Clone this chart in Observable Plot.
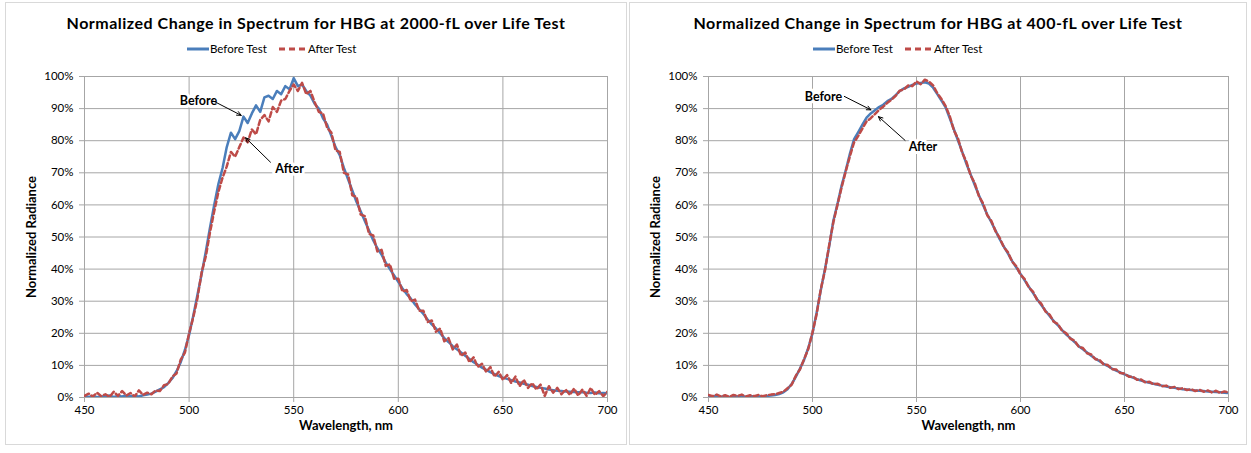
<!DOCTYPE html>
<html><head><meta charset="utf-8">
<script src="https://cdn.jsdelivr.net/npm/d3@7"></script>
<script src="https://cdn.jsdelivr.net/npm/@observablehq/plot@0.6"></script>
<style>
body{margin:0;background:#fff;font-family:Lato,sans-serif;width:1251px;height:453px;overflow:hidden;position:relative}
.panel{position:absolute;top:2px;height:443px;border:1px solid #d9d9d9;background:#fff;box-sizing:border-box}
.title{position:absolute;top:10px;left:0;right:0;text-align:center;font-weight:bold;font-size:16px;letter-spacing:0.5px;color:#000;white-space:nowrap}
.legend{position:absolute;top:39px;display:flex;align-items:center;font-size:11.5px;color:#000;white-space:nowrap}
.legend svg{display:block}
.plotwrap{position:absolute;left:0;top:0}
svg [aria-label="x-axis tick"], svg [aria-label="y-axis tick"]{stroke:#a6a6a6}
svg [aria-label="x-axis label"], svg [aria-label="y-axis label"]{font-weight:bold;font-size:13px}
</style>
</head><body>
<div id="p1" class="panel" style="left:5px;width:622px"></div>
<div id="p2" class="panel" style="left:629px;width:618px"></div>
<script>
const titles = ["Normalized Change in Spectrum for HBG at 2000-fL over Life Test", "Normalized Change in Spectrum for HBG at 400-fL over Life Test"];
const seriesNames = ["Before Test", "After Test"];
const xLabel = "Wavelength, nm";
const yLabel = "Normalized Radiance";
const xTicks = [450, 500, 550, 600, 650, 700];
const yTicks = [0, 10, 20, 30, 40, 50, 60, 70, 80, 90, 100];

const wl = [450,452,454,456,458,460,462,464,466,468,470,472,474,476,478,480,482,484,486,488,490,492,494,496,498,500,502,504,506,508,510,512,514,516,518,520,522,524,526,528,530,532,534,536,538,540,542,544,546,548,550,552,554,556,558,560,562,564,566,568,570,572,574,576,578,580,582,584,586,588,590,592,594,596,598,600,602,604,606,608,610,612,614,616,618,620,622,624,626,628,630,632,634,636,638,640,642,644,646,648,650,652,654,656,658,660,662,664,666,668,670,672,674,676,678,680,682,684,686,688,690,692,694,696,698,700];

// 2000-fL chart
const before2000 = [0.3,0.2,0.5,0.1,0.4,0.3,0.6,0.2,0.5,0.3,0.6,0.4,0.5,0.3,0.7,0.9,1.2,1.8,2.5,3.2,4.5,6.0,8.2,11.0,14.8,19.5,25.5,32.0,38.5,45.5,53.0,60.0,66.5,71.5,78.0,82.5,80.5,83.0,87.5,85.5,88.5,91.0,89.0,93.5,94.0,93.0,95.5,94.5,97.0,96.0,99.5,97.0,97.5,95.5,94.0,91.5,90.0,87.0,85.0,81.5,78.0,75.5,71.5,68.0,64.5,61.0,58.0,55.0,52.0,49.0,46.5,44.5,42.0,40.0,38.0,36.0,34.0,32.2,30.8,29.0,27.5,26.0,24.3,22.8,21.5,20.0,18.5,17.3,16.0,15.0,14.0,13.0,12.0,11.0,10.2,9.3,8.6,7.9,7.3,6.7,6.2,5.8,5.4,5.0,4.7,4.3,4.0,3.6,3.3,3.0,2.8,2.5,2.3,2.1,2.0,1.9,1.8,1.7,1.6,1.7,1.5,1.4,1.6,1.3,1.4,1.3];
const after2000 = [0.5,1.2,0.3,1.5,0.4,1.0,0.2,1.8,0.5,2.0,0.6,1.4,0.3,2.2,0.8,1.5,1.0,2.2,2.0,3.8,4.2,6.5,7.5,11.8,14.0,20.0,25.0,31.0,39.0,44.0,51.5,58.0,64.0,68.5,72.0,76.5,75.0,78.0,81.0,79.5,83.5,82.0,86.5,88.0,86.0,90.5,89.0,92.5,93.0,95.5,97.5,95.5,98.0,94.5,95.5,92.0,89.0,88.5,84.0,82.5,77.0,76.5,70.0,69.5,63.0,62.5,57.0,56.5,51.0,50.5,45.5,46.0,41.0,41.5,37.0,37.0,33.0,33.5,30.0,30.5,27.0,27.0,23.5,24.0,20.5,21.5,17.5,18.5,15.0,16.5,13.0,14.0,11.0,12.5,9.5,10.5,8.0,9.5,6.5,8.0,5.5,7.0,4.5,6.5,3.5,5.5,3.0,4.5,2.5,4.0,0.5,3.5,1.5,3.0,1.0,2.5,0.8,2.8,0.6,2.5,0.5,3.0,0.8,2.0,0.4,1.8];

// 400-fL chart
const before400 = [0.5,0.3,0.6,0.2,0.4,0.1,0.5,0.3,0.6,0.2,0.5,0.3,0.4,0.3,0.5,0.6,0.8,1.1,1.6,2.6,4.2,6.5,9.0,11.8,15.5,20.0,26.5,33.5,40.0,47.0,55.0,60.3,66.0,70.8,76.0,80.5,82.7,85.0,87.2,88.5,89.5,90.5,91.2,92.3,93.0,94.2,95.5,96.3,96.8,97.4,97.8,98.0,98.2,97.8,96.5,94.5,92.5,90.4,87.0,83.5,80.0,76.5,72.8,69.5,66.2,63.0,60.0,57.0,54.6,52.0,49.3,47.0,44.8,42.5,40.5,38.5,36.5,34.5,32.6,30.6,28.8,27.0,25.4,23.8,22.5,21.0,19.6,18.5,17.3,16.0,15.0,14.0,13.0,12.1,11.3,10.5,9.8,9.0,8.4,7.8,7.2,6.7,6.2,5.7,5.3,4.9,4.6,4.3,4.0,3.7,3.4,3.2,3.0,2.8,2.6,2.5,2.3,2.2,2.1,2.0,1.9,1.8,1.7,1.6,1.5,1.4];
const after400 = [0.8,0.4,0.9,0.3,0.7,0.2,0.8,0.5,0.9,0.3,0.7,0.4,0.8,0.4,0.7,0.9,1.0,1.4,1.8,2.9,4.0,6.8,8.8,12.0,15.2,20.3,26.0,33.8,39.6,47.4,54.5,60.0,65.5,70.5,75.2,79.5,81.5,83.8,86.0,87.0,88.3,89.6,90.6,91.8,92.8,94.0,95.6,96.0,97.2,97.0,98.5,97.6,99.0,98.4,97.2,94.8,93.0,90.8,87.6,83.2,80.6,76.2,73.4,69.2,66.8,62.7,60.5,56.8,55.0,51.8,49.7,46.8,45.2,42.3,40.9,38.3,36.9,34.3,33.0,30.4,29.2,26.8,25.8,23.6,22.9,20.8,20.0,18.3,17.7,15.8,15.4,13.8,13.4,11.9,11.7,10.3,10.1,8.8,8.7,7.6,7.5,6.5,6.5,5.5,5.6,4.7,4.9,4.1,4.3,3.5,3.7,3.0,3.3,2.6,2.9,2.3,2.6,2.0,2.4,1.8,2.2,1.6,2.1,1.4,1.9,1.6];

// annotations in data coordinates (wavelength, %)
const notes2000 = [{label: "Before", x: 504.5, y: 92.5}, {label: "After", x: 548, y: 71.2}];
const arrows2000 = [{x1: 511.8, y1: 92.3, x2: 524.9, y2: 87.9}, {x1: 538.9, y1: 73.3, x2: 527, y2: 80.9}];
const notes400 = [{label: "Before", x: 505.3, y: 93.5}, {label: "After", x: 553.1, y: 78}];
const arrows400 = [{x1: 515.3, y1: 93.8, x2: 528.1, y2: 89.6}, {x1: 544.5, y1: 80.1, x2: 531.7, y2: 87.5}];

const BLUE = "#4a7ebb", RED = "#be4b48", GRID = "#a6a6a6";

function legend(left) {
  const d = document.createElement("div");
  d.className = "legend";
  d.style.left = left + "px";
  d.innerHTML =
    `<svg width="22" height="6"><line x1="0" x2="22" y1="3" y2="3" stroke="${BLUE}" stroke-width="3"/></svg>` +
    `<span style="margin-left:1px">${seriesNames[0]}</span>` +
    `<svg width="26" height="6" style="margin-left:12px"><line x1="0" x2="26" y1="3" y2="3" stroke="${RED}" stroke-width="3" stroke-dasharray="6,4"/></svg>` +
    `<span style="margin-left:3px">${seriesNames[1]}</span>`;
  return d;
}

function chart(before, after, notes, arrows, width, marginRight) {
  const rowsB = wl.map((x, i) => ({x, y: before[i]}));
  const rowsA = wl.map((x, i) => ({x, y: after[i]}));
  return Plot.plot({
    width, height: 441,
    marginLeft: 78, marginRight, marginTop: 73, marginBottom: 47,
    style: {fontFamily: "Lato, sans-serif", fontSize: "11.5px", color: "#000", background: "transparent", overflow: "visible"},
    x: {domain: [450, 700]},
    y: {domain: [0, 100]},
    marks: [
      Plot.gridX(xTicks, {stroke: GRID, strokeOpacity: 1}),
      Plot.gridY(yTicks, {stroke: GRID, strokeOpacity: 1}),
      Plot.axisX(xTicks, {tickSize: 5, tickPadding: 3, label: xLabel, labelAnchor: "center", labelArrow: "none", labelOffset: 32}),
      Plot.axisY(yTicks, {tickSize: 5, tickPadding: 6, tickFormat: d => d + "%", label: yLabel, labelAnchor: "center", labelArrow: "none", labelOffset: 58}),
      Plot.line(rowsB, {x: "x", y: "y", stroke: BLUE, strokeWidth: 2.5, clip: true}),
      Plot.line(rowsA, {x: "x", y: "y", stroke: RED, strokeWidth: 2.5, strokeDasharray: "5,3", clip: true}),
      Plot.text(notes, {x: "x", y: "y", text: "label", fontWeight: "bold", fontSize: 12.5, fill: "#000", stroke: "#fff", strokeWidth: 6}),
      Plot.arrow(arrows, {x1: "x1", y1: "y1", x2: "x2", y2: "y2", stroke: "#000", strokeWidth: 1, headLength: 7, headAngle: 50})
    ]
  });
}

function build(id, title, before, after, notes, arrows, width, marginRight, legLeft) {
  const p = document.getElementById(id);
  const w = document.createElement("div");
  w.className = "plotwrap";
  w.appendChild(chart(before, after, notes, arrows, width, marginRight));
  p.appendChild(w);
  const t = document.createElement("div");
  t.className = "title";
  t.textContent = title;
  p.appendChild(t);
  p.appendChild(legend(legLeft));
}

build("p1", titles[0], before2000, after2000, notes2000, arrows2000, 620, 19, 181);
build("p2", titles[1], before400, after400, notes400, arrows400, 616, 18, 183);
</script>
</body></html>
